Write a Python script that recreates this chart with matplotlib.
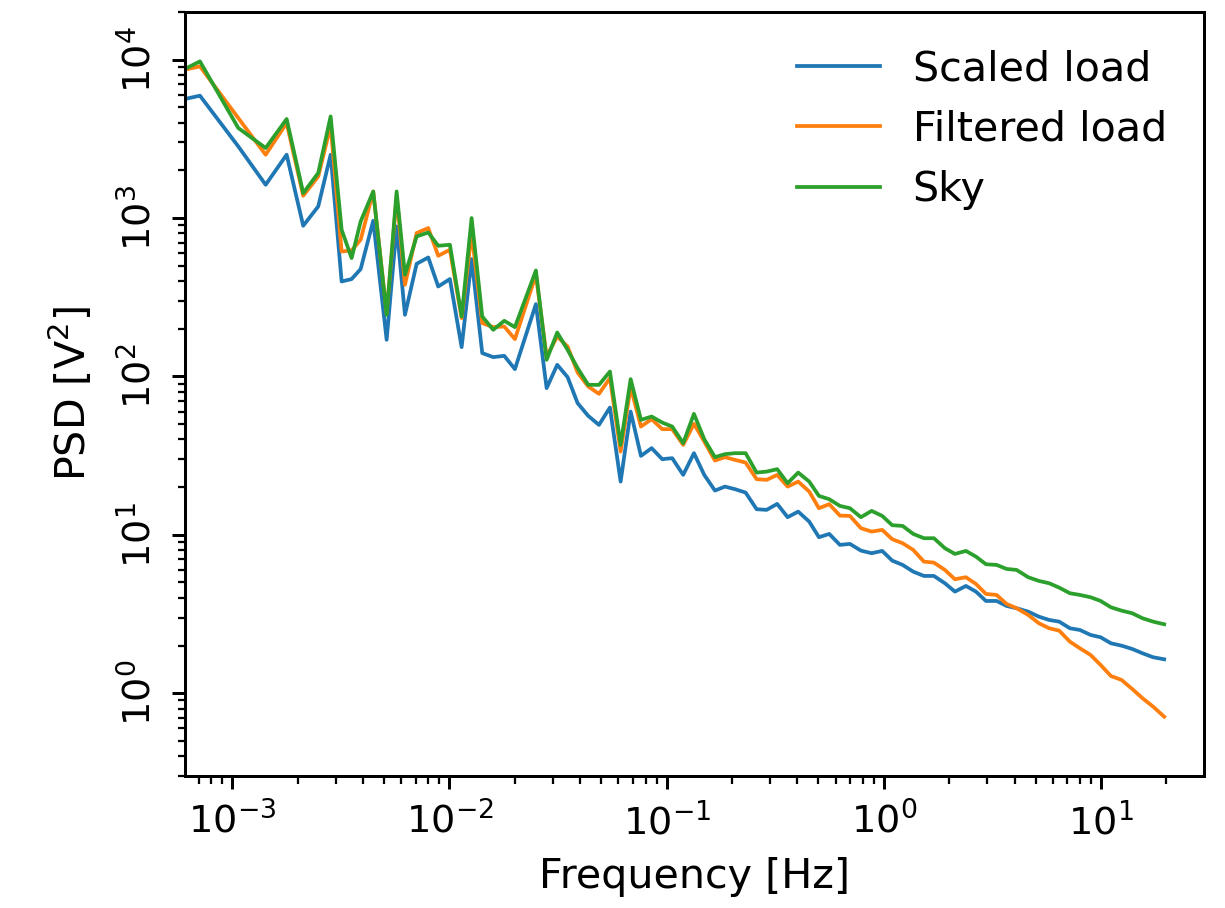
import matplotlib.pyplot as plt

# log-binned PSD, frequencies in Hz
freq = [3.55e-4, 7.10e-4, 1.066e-3, 1.425e-3, 1.780e-3, 2.122e-3, 2.488e-3, 2.838e-3,
        3.189e-3, 3.545e-3, 3.901e-3, 4.458e-3, 5.139e-3, 5.713e-3, 6.240e-3, 7.063e-3,
        7.988e-3, 8.879e-3, 1.005e-2, 1.138e-2, 1.265e-2, 1.416e-2, 1.591e-2, 1.788e-2,
        2.002e-2, 2.501e-2, 2.802e-2, 3.135e-2, 3.500e-2, 3.892e-2, 4.355e-2, 4.880e-2,
        5.483e-2, 6.140e-2, 6.829e-2, 7.616e-2, 8.529e-2, 9.543e-2, 0.1061, 0.1192,
        0.1336, 0.1490, 0.1669, 0.1855, 0.2063, 0.2310, 0.2597, 0.2887, 0.3229, 0.3606,
        0.4035, 0.4534, 0.5027, 0.5606, 0.6280, 0.6981, 0.7845, 0.8787, 0.9831, 1.093,
        1.221, 1.366, 1.530, 1.701, 1.911, 2.125, 2.388, 2.656, 2.952, 3.306,
        3.676, 4.088, 4.622, 5.177, 5.773, 6.422, 7.191, 7.997, 8.956, 9.959,
        11.11, 12.44, 13.92, 15.54, 17.39, 19.54]

psd_scaled = [4810, 5924, 2834, 1623, 2511, 894, 1184, 2511,
              397.7, 411.9, 476.2, 961.4, 170.3, 884.8, 244.9, 514.3,
              563.7, 369.7, 411.9, 153.1, 550.8, 140.4, 132.4, 134.9,
              111.2, 286.2, 84.36, 118.4, 99.0, 67.81, 56.37, 49.44,
              63.61, 21.68, 60.0, 31.5, 35.25, 30.03, 30.47, 23.9,
              32.77, 23.9, 19.02, 20.16, 19.42, 18.48, 14.51, 14.37, 15.67, 12.92,
              14.01, 12.12, 9.656, 10.13, 8.637, 8.763, 7.947, 7.653, 7.912, 6.871,
              6.454, 5.853, 5.5, 5.5, 4.944, 4.378, 4.755, 4.378, 3.823, 3.823,
              3.555, 3.438, 3.272, 3.042, 2.9, 2.829, 2.57, 2.507, 2.332, 2.255,
              2.066, 1.995, 1.902, 1.786, 1.686, 1.637]

psd_filtered = [7360, 9073, 4281, 2511, 3982, 1383, 1831, 3830,
                615.2, 624.2, 729.4, 1472, 251.1, 1369, 378.9, 804.1,
                864.5, 577.8, 630.5, 233.5, 804.1, 217.1, 204.8, 206.6,
                172.0, 438.3, 133.6, 178.7, 154.5, 105.8, 86.37, 77.64,
                97.56, 33.54, 85.61, 48.26, 53.73, 46.47, 46.47, 36.97,
                50.19, 38.8, 29.42, 30.92, 29.73, 28.58, 22.45, 22.23, 23.9, 20.16,
                21.68, 18.75, 14.72, 15.61, 13.22, 13.16, 11.01, 10.48, 10.74, 9.381,
                8.848, 8.028, 6.772, 6.674, 6.0, 5.243, 5.397, 4.895, 4.233, 4.172,
                3.66, 3.438, 3.119, 2.764, 2.57, 2.482, 2.115, 1.921, 1.743, 1.507,
                1.284, 1.212, 1.063, 0.9286, 0.8217, 0.7105]

psd_sky = [6030, 9756, 3703, 2768, 4220, 1438, 1924, 4383,
           843.6, 558.8, 951.7, 1472, 244.9, 1472, 438.3, 765.4,
           811.0, 668.3, 678.1, 239.0, 1000, 239.0, 197.0, 224.5,
           204.8, 466.7, 127.3, 189.4, 147.2, 112.8, 88.48, 88.48,
           107.4, 36.97, 96.14, 53.19, 55.8, 51.15, 48.26, 37.9,
           58.03, 40.17, 30.92, 32.3, 32.77, 32.77, 24.71, 25.07, 25.97, 21.18,
           24.71, 21.68, 17.6, 16.78, 15.22, 14.72, 12.92, 14.16, 13.16, 11.5,
           11.38, 10.13, 9.517, 9.517, 8.228, 7.574, 7.912, 7.283, 6.52, 6.454,
           6.089, 6.0, 5.397, 5.115, 4.944, 4.638, 4.277, 4.172, 4.034, 3.823,
           3.487, 3.32, 3.197, 2.972, 2.829, 2.724]

DPI = 270
fig = plt.figure(figsize=(1226 / DPI, 908 / DPI), dpi=DPI)
ax = fig.add_axes([185 / 1226, 1 - 776 / 908, (1204 - 185) / 1226, (776 - 12) / 908])

ax.loglog(freq, psd_scaled, color='C0', lw=1.0, label='Scaled load')
ax.loglog(freq, psd_filtered, color='C1', lw=1.0, label='Filtered load')
ax.loglog(freq, psd_sky, color='C2', lw=1.0, label='Sky')

ax.set_xlim(6.06e-4, 29.8)
ax.set_ylim(0.30, 2.0e4)
ax.set_xlabel('Frequency [Hz]', fontsize=11)
ax.set_ylabel('PSD [V$^2$]', fontsize=11, labelpad=6.5)
ax.tick_params(labelsize=10.2)
plt.setp(ax.get_yticklabels(), rotation=90, va='center')
ax.legend(frameon=False, fontsize=11, loc='upper right')

fig.savefig('out.png', dpi=DPI)
